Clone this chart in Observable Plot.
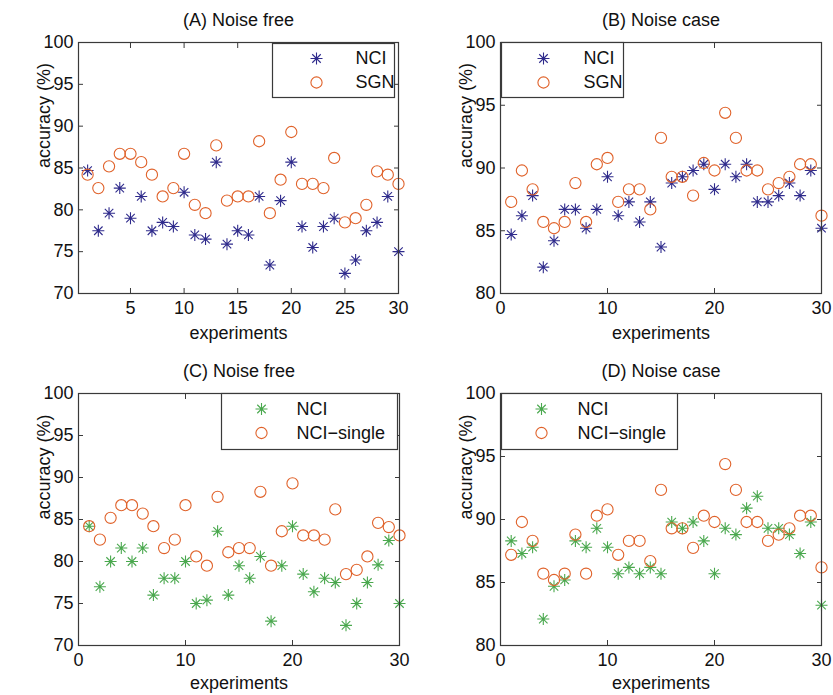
<!DOCTYPE html>
<html>
<head>
<meta charset="utf-8">
<script src="https://cdn.jsdelivr.net/npm/d3@7"></script>
<script src="https://cdn.jsdelivr.net/npm/@observablehq/plot@0.6"></script>
<style>
  html, body { margin: 0; padding: 0; background: #fff; }
  #chart { position: relative; width: 833px; height: 695px; font-family: "Liberation Sans", Arial, Helvetica, sans-serif; }
  #chart svg { position: absolute; overflow: visible; }
</style>
</head>
<body>
<div id="chart"></div>
<script>
// ---- data ----
const experiments = [1,2,3,4,5,6,7,8,9,10,11,12,13,14,15,16,17,18,19,20,21,22,23,24,25,26,27,28,29,30];

// (A) Noise free
const nciA = [84.7,77.5,79.6,82.6,79.0,81.6,77.5,78.5,78.0,82.1,77.0,76.5,85.7,75.9,77.5,77.0,81.6,73.4,81.1,85.7,78.0,75.5,78.0,79.0,72.4,74.0,77.5,78.5,81.6,75.0];
const sgnA = [84.2,82.6,85.2,86.7,86.7,85.7,84.2,81.6,82.6,86.7,80.6,79.6,87.7,81.1,81.6,81.6,88.2,79.6,83.6,89.3,83.1,83.1,82.6,86.2,78.5,79.0,80.6,84.6,84.2,83.1];

// (B) Noise case
const nciB = [84.7,86.2,87.8,82.1,84.2,86.7,86.7,85.2,86.7,89.3,86.2,87.3,85.7,87.3,83.7,88.8,89.3,89.8,90.3,88.3,90.3,89.3,90.3,87.3,87.3,87.8,88.8,87.8,89.8,85.2];
const sgnB = [87.3,89.8,88.3,85.7,85.2,85.7,88.8,85.7,90.3,90.8,87.3,88.3,88.3,86.7,92.4,89.3,89.3,87.8,90.4,89.8,94.4,92.4,89.8,89.8,88.3,88.8,89.3,90.3,90.3,86.2];

// (C) Noise free
const nciC = [84.2,77.0,80.0,81.6,80.0,81.6,76.0,78.0,78.0,80.0,75.0,75.4,83.6,76.0,79.5,78.0,80.6,72.9,79.5,84.2,78.5,76.4,78.0,77.5,72.4,75.0,77.5,79.6,82.5,75.0];
const singleC = [84.2,82.6,85.2,86.7,86.7,85.7,84.2,81.6,82.6,86.7,80.6,79.5,87.7,81.1,81.6,81.6,88.3,79.5,83.6,89.3,83.1,83.1,82.6,86.2,78.5,79.0,80.6,84.6,84.1,83.1];

// (D) Noise case
const nciD = [88.3,87.3,87.8,82.1,84.7,85.2,88.3,87.8,89.3,87.8,85.7,86.2,85.7,86.2,85.7,89.8,89.3,89.8,88.3,85.7,89.3,88.8,90.9,91.85,89.3,89.3,88.8,87.3,89.8,83.2];
const singleD = [87.2,89.8,88.3,85.7,85.2,85.7,88.8,85.7,90.3,90.8,87.2,88.3,88.3,86.7,92.35,89.3,89.3,87.75,90.3,89.8,94.4,92.35,89.8,89.8,88.3,88.8,89.3,90.3,90.3,86.2];

const ticksFree = [5,10,15,20,25,30];
const ticksZeroTo30 = [0,10,20,30];
const yTicksFree = [70,75,80,85,90,95,100];
const yTicksNoise = [80,85,90,95,100];

// ---- styles ----
const BLUE = "#2f2b8c";
const GREEN = "#4aa84e";
const ORANGE = "#e0622a";
const FRAME = "#3a3a3a";
const FONT = "\"Liberation Sans\", Arial, Helvetica, sans-serif";

// MATLAB-like 8-armed asterisk
const asterisk = {
  draw(ctx, size) {
    const r = Math.sqrt(size / Math.PI);
    const d = r * Math.SQRT1_2;
    ctx.moveTo(0, -r); ctx.lineTo(0, r);
    ctx.moveTo(-r, 0); ctx.lineTo(r, 0);
    ctx.moveTo(-d, -d); ctx.lineTo(d, d);
    ctx.moveTo(-d, d); ctx.lineTo(d, -d);
  }
};

function panel(cfg) {
  const rows1 = experiments.map((e, i) => ({x: e, y: cfg.s1[i]}));
  const rows2 = experiments.map((e, i) => ({x: e, y: cfg.s2[i]}));
  const L = cfg.legend;
  const chart = Plot.plot({
    width: cfg.width,
    height: cfg.height,
    marginLeft: cfg.m[0], marginRight: cfg.m[1], marginTop: cfg.m[2], marginBottom: cfg.m[3],
    style: {fontFamily: FONT, background: "transparent", overflow: "visible"},
    x: {domain: cfg.xDomain, axis: null, label: null},
    y: {domain: cfg.yDomain, axis: null, label: null},
    marks: [
      // tick labels
      Plot.axisX(cfg.xTicks, {anchor: "bottom", label: null, tickSize: 0, tickPadding: 8, fontSize: 18, fill: "#111"}),
      Plot.axisY(cfg.yTicks, {anchor: "left", label: null, tickSize: 0, tickPadding: 5, fontSize: 18, fill: "#111"}),
      // inward ticks on all four sides
      Plot.axisX(cfg.xTicks, {anchor: "bottom", label: null, tickSize: 5, text: null, dy: -5, stroke: FRAME}),
      Plot.axisX(cfg.xTicks, {anchor: "top", label: null, tickSize: 5, text: null, dy: 5, stroke: FRAME}),
      Plot.axisY(cfg.yTicks, {anchor: "left", label: null, tickSize: 5, text: null, dx: 5, stroke: FRAME}),
      Plot.axisY(cfg.yTicks, {anchor: "right", label: null, tickSize: 5, text: null, dx: -5, stroke: FRAME}),
      // data
      Plot.dot(rows1, {x: "x", y: "y", symbol: asterisk, r: 6, fill: "none", stroke: cfg.c1, strokeWidth: 1.1}),
      Plot.dot(rows2, {x: "x", y: "y", symbol: "circle", r: 5.6, fill: "none", stroke: ORANGE, strokeWidth: 1.1}),
      // frame
      Plot.frame({stroke: FRAME, strokeWidth: 1.2}),
      // legend box
      Plot.frame({fill: "white", stroke: FRAME, strokeWidth: 1.2,
        insetLeft: L.box[0], insetRight: L.box[1], insetTop: L.box[2], insetBottom: L.box[3]}),
      Plot.dot([cfg.n1], {frameAnchor: "top-left", dx: L.sx, dy: L.y1, symbol: asterisk, r: 6, fill: "none", stroke: cfg.c1, strokeWidth: 1.1}),
      Plot.dot([cfg.n2], {frameAnchor: "top-left", dx: L.sx, dy: L.y2, symbol: "circle", r: 5.6, fill: "none", stroke: ORANGE, strokeWidth: 1.1}),
      Plot.text([cfg.n1], {text: d => d, frameAnchor: "top-left", dx: L.tx, dy: L.y1, textAnchor: "start", lineAnchor: "middle", fontSize: 18, fill: "#111"}),
      Plot.text([cfg.n2], {text: d => d, frameAnchor: "top-left", dx: L.tx, dy: L.y2, textAnchor: "start", lineAnchor: "middle", fontSize: 18, fill: "#111"}),
      // title and axis labels
      Plot.text([cfg.title], {text: d => d, frameAnchor: "top", dy: -22, lineAnchor: "middle", fontSize: 18, fill: "#111"}),
      Plot.text(["experiments"], {text: d => d, frameAnchor: "bottom", dy: cfg.xlabDy, lineAnchor: "middle", fontSize: 18, fill: "#111"}),
      Plot.text(["accuracy (%)"], {text: d => d, frameAnchor: "left", dx: -34, rotate: -90, lineAnchor: "middle", fontSize: 18, fill: "#111"})
    ]
  });
  chart.style.left = cfg.left + "px";
  chart.style.top = cfg.top + "px";
  document.getElementById("chart").appendChild(chart);
}

panel({
  left: 0, top: 0, width: 416, height: 347, m: [78, 18, 42, 54],
  xDomain: [0.15, 30], xTicks: ticksFree, yDomain: [70, 100], yTicks: yTicksFree,
  title: "(A) Noise free", s1: nciA, s2: sgnA, c1: BLUE, n1: "NCI", n2: "SGN", xlabDy: 40,
  legend: {box: [194, 4, 1, 196], sx: 238, tx: 277, y1: 16, y2: 40}
});
panel({
  left: 416, top: 0, width: 417, height: 347, m: [84, 12, 42, 54],
  xDomain: [0, 30], xTicks: ticksZeroTo30, yDomain: [80, 100], yTicks: yTicksNoise,
  title: "(B) Noise case", s1: nciB, s2: sgnB, c1: BLUE, n1: "NCI", n2: "SGN", xlabDy: 40,
  legend: {box: [1, 198, 0, 196], sx: 43, tx: 83, y1: 16, y2: 40}
});
panel({
  left: 0, top: 347, width: 416, height: 348, m: [78, 17, 46, 50],
  xDomain: [0, 30], xTicks: ticksZeroTo30, yDomain: [70, 100], yTicks: yTicksFree,
  title: "(C) Noise free", s1: nciC, s2: singleC, c1: GREEN, n1: "NCI", n2: "NCI\u2212single", xlabDy: 38,
  legend: {box: [143, 2, 0, 196], sx: 183, tx: 218, y1: 15.5, y2: 39.5}
});
panel({
  left: 416, top: 347, width: 417, height: 348, m: [84, 12, 46, 50],
  xDomain: [0, 30], xTicks: ticksZeroTo30, yDomain: [80, 100], yTicks: yTicksNoise,
  title: "(D) Noise case", s1: nciD, s2: singleD, c1: GREEN, n1: "NCI", n2: "NCI\u2212single", xlabDy: 38,
  legend: {box: [1, 144, 0, 196], sx: 41, tx: 77, y1: 15.5, y2: 39.5}
});
</script>
</body>
</html>
